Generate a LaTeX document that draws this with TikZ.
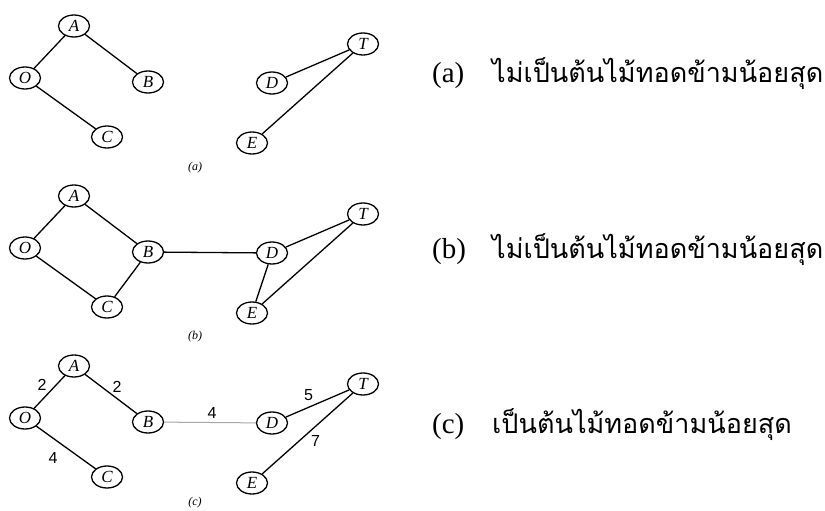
\documentclass[tikz,border=0pt]{standalone}
\usepackage{fontspec}
\setmainfont{Liberation Serif}
\newfontfamily\thaifont[Script=Thai]{Loma}
\newfontfamily\wfont{Liberation Sans}
\usetikzlibrary{shapes.geometric}
\tikzset{
  vtx/.style={draw, ellipse, line width=1.3pt, minimum width=31pt, minimum height=22pt, inner sep=0pt, font=\fontsize{17}{17}\selectfont\itshape},
  ln/.style={line width=1.3pt},
  lnlight/.style={line width=1pt, gray!70},
  wl/.style={font=\wfont\fontsize{16}{16}\selectfont, inner sep=0pt, text=black},
  subcap/.style={font=\fontsize{12}{12}\selectfont\itshape, inner sep=0pt},
  rtext/.style={anchor=base west, inner sep=0pt, font=\fontsize{29}{29}\selectfont},
  ttext/.style={anchor=base west, inner sep=0pt, font=\thaifont\fontsize{27}{27}\selectfont},
}
\begin{document}
\begin{tikzpicture}[x=1pt,y=-1pt]
\useasboundingbox[fill=white] (0,0) rectangle (825,511);
% panel (a)
\node[vtx] (aA) at (74,26) {A};
\node[vtx] (aO) at (25,78) {O};
\node[vtx] (aB) at (148,82) {B};
\node[vtx] (aC) at (107,137) {C};
\node[vtx] (aD) at (272,83) {D};
\node[vtx] (aT) at (363,44) {T};
\node[vtx] (aE) at (252,143) {E};
\draw[ln] (aA) -- (aO);
\draw[ln] (aA) -- (aB);
\draw[ln] (aO) -- (aC);
\draw[ln] (aT) -- (aD);
\draw[ln] (aT) -- (aE);
\node[subcap] (acap) at (195,168) {(a)};
% panel (b)
\node[vtx] (bA) at (74,196) {A};
\node[vtx] (bO) at (25,248) {O};
\node[vtx] (bB) at (148,252) {B};
\node[vtx] (bC) at (107,307) {C};
\node[vtx] (bD) at (272,253) {D};
\node[vtx] (bT) at (363,214) {T};
\node[vtx] (bE) at (252,313) {E};
\draw[ln] (bA) -- (bO);
\draw[ln] (bA) -- (bB);
\draw[ln] (bO) -- (bC);
\draw[ln] (bB) -- (bC);
\draw[ln] (bB) -- (bD);
\draw[ln] (bD) -- (bT);
\draw[ln] (bD) -- (bE);
\draw[ln] (bT) -- (bE);
\node[subcap] (bcap) at (195,337) {(b)};
% panel (c)
\node[vtx] (cA) at (74,366) {A};
\node[vtx] (cO) at (25,418) {O};
\node[vtx] (cB) at (148,422) {B};
\node[vtx] (cC) at (107,477) {C};
\node[vtx] (cD) at (272,423) {D};
\node[vtx] (cT) at (363,384) {T};
\node[vtx] (cE) at (252,483) {E};
\draw[ln] (cO) -- node[wl, xshift=-7.5pt, yshift=7pt] {2} (cA);
\draw[ln] (cA) -- node[wl, xshift=6pt, yshift=7pt] {2} (cB);
\draw[ln] (cO) -- node[wl, xshift=-13pt, yshift=-10pt] {4} (cC);
\draw[lnlight] (cB) -- node[wl, xshift=2pt, yshift=10pt] {4} (cD);
\draw[ln] (cD) -- node[wl, xshift=-9pt, yshift=8pt] {5} (cT);
\draw[ln] (cT) -- node[wl, xshift=8pt, yshift=-7pt] {7} (cE);
\node[subcap] (ccap) at (195,503) {(c)};
% right texts
\node[rtext] (ta) at (432,83) {(a)};
\node[rtext] (tb) at (432,258) {(b)};
\node[rtext] (tc) at (432,433) {(c)};
\node[ttext] (ua) at (492,83) {ไม่เป็นต้นไม้ทอดข้ามน้อยสุด};
\node[ttext] (ub) at (492,258) {ไม่เป็นต้นไม้ทอดข้ามน้อยสุด};
\node[ttext] (uc) at (492,433) {เป็นต้นไม้ทอดข้ามน้อยสุด};
\end{tikzpicture}
\end{document}
